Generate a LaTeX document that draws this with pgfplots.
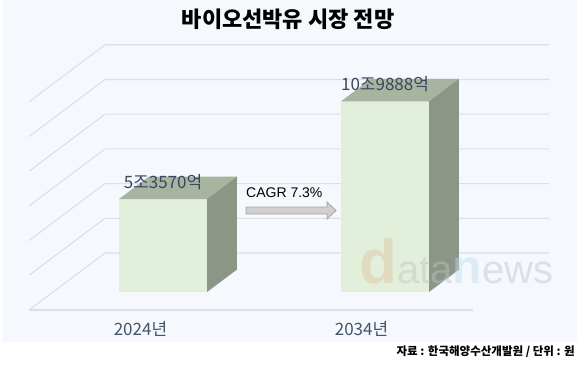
\documentclass[border=0pt]{standalone}
\usepackage{pgfplots}
\pgfplotsset{compat=1.18}
\usepackage{fontspec}
\setmainfont{Noto Sans CJK KR}
\newfontfamily\arialf{Liberation Sans}
\definecolor{panel}{HTML}{F5F8FC}
\definecolor{gridc}{HTML}{DCE0E6}
\definecolor{barfront}{HTML}{E2EFDA}
\definecolor{bartop}{HTML}{A8B4A0}
\definecolor{barside}{HTML}{8C9686}
\definecolor{valc}{HTML}{38475F}
\definecolor{yearc}{HTML}{44546A}
\definecolor{arrowf}{HTML}{D0CECE}
\definecolor{arrowd}{HTML}{A6A6A6}
\definecolor{wmd}{RGB}{222,196,160}
\definecolor{wmg}{RGB}{190,196,202}
\definecolor{wmn}{RGB}{190,220,240}
\begin{document}
\begin{tikzpicture}[x=1pt,y=1pt]
\useasboundingbox (0,-60) rectangle (580,310);
\fill[white] (0,-60) rectangle (580,310);
\fill[panel] (2,-32) rectangle (577,310);
\begin{axis}[at={(0,0)}, anchor=origin,
  x={(1pt,0pt)}, y={(76pt,57pt)}, z={(0pt,17.35pt)},
  xmin=0, xmax=473, ymin=0, ymax=1, zmin=0, zmax=12,
  hide axis, clip=false]
% grid: back wall and left wall
\pgfplotsinvokeforeach{0,2,4,6,8,10,12}{
  \addplot3[gridc, line width=1.1pt, mark=none] coordinates {(473,1,#1) (29,1,#1) (29,0,#1)};
}
\addplot3[gridc, line width=1.1pt, mark=none] coordinates {(29,0,0) (473,0,0)};
% bar 2024
\addplot3[fill=barfront, draw=none, mark=none] coordinates {(95,0.316,0) (183,0.316,0) (183,0.316,5.357) (95,0.316,5.357)};
\addplot3[fill=bartop, draw=none, mark=none] coordinates {(95,0.316,5.357) (183,0.316,5.357) (183,0.71,5.357) (95,0.71,5.357)};
\addplot3[fill=barside, draw=none, mark=none] coordinates {(183,0.316,0) (183,0.71,0) (183,0.71,5.357) (183,0.316,5.357)};
% bar 2034
\addplot3[fill=barfront, draw=none, mark=none] coordinates {(317,0.316,0) (405,0.316,0) (405,0.316,10.9888) (317,0.316,10.9888)};
\addplot3[fill=bartop, draw=none, mark=none] coordinates {(317,0.316,10.9888) (405,0.316,10.9888) (405,0.71,10.9888) (317,0.71,10.9888)};
\addplot3[fill=barside, draw=none, mark=none] coordinates {(405,0.316,0) (405,0.71,0) (405,0.71,10.9888) (405,0.316,10.9888)};
% value labels
\node[text=valc, font=\fontsize{17}{20}\selectfont, anchor=center, yshift=17pt, inner sep=0pt] at (axis cs:139,0.316,5.357) {5조3570억};
\node[text=valc, font=\fontsize{17}{20}\selectfont, anchor=center, yshift=17pt, inner sep=0pt] at (axis cs:361,0.316,10.9888) {10조9888억};
\end{axis}
% watermark
\node[anchor=base west, inner sep=0pt, opacity=0.45] at (359,27) {\arialf{\color{wmd}\bfseries\fontsize{62}{66}\selectfont d}{\color{wmg}\fontsize{40}{44}\selectfont ata}{\color{wmn}\bfseries\fontsize{48}{52}\selectfont n}{\color{wmg}\fontsize{40}{44}\selectfont ews}};
% CAGR arrow
\filldraw[fill=arrowf, draw=arrowd, line width=0.8pt] (246,96) -- (327,96) -- (327,91) -- (336,99.5) -- (327,108) -- (327,103) -- (246,103) -- cycle;
\node[anchor=west, inner sep=0pt, font=\arialf\fontsize{14}{16}\selectfont] at (246,117) {CAGR 7.3\%};
% title
\node[font=\bfseries\fontsize{22}{26}\selectfont, inner sep=0pt] at (288,291) {바이오선박유 시장 전망};
% year labels
\node[text=yearc, font=\fontsize{17}{20}\selectfont, inner sep=0pt] at (140.5,-18.5) {2024년};
\node[text=yearc, font=\fontsize{17}{20}\selectfont, inner sep=0pt] at (361.5,-18.5) {2034년};
% source
\node[anchor=east, font=\bfseries\fontsize{11.5}{13}\selectfont, inner sep=0pt] at (575,-42) {자료 : 한국해양수산개발원 / 단위 : 원};
\end{tikzpicture}
\end{document}
